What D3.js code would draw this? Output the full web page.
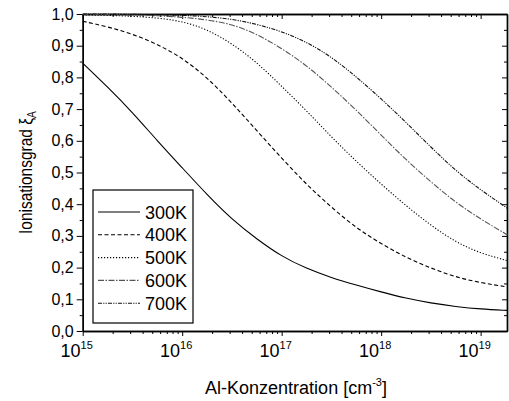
<!DOCTYPE html>
<html>
<head>
<meta charset="utf-8">
<script src="https://cdn.jsdelivr.net/npm/d3@7"></script>
<style>
  body { margin: 0; background: #fff; }
  text { font-family: Arial, "Liberation Sans", sans-serif; fill: #000; }
</style>
</head>
<body>
<script>
// log10 of Al concentration (x grid shared by all curves)
var exps = [15, 15.25, 15.5, 15.75, 16, 16.25, 16.5, 16.75, 17, 17.25, 17.5, 17.75, 18, 18.25, 18.5, 18.75, 19, 19.27];

var t300 = [0.845, 0.77, 0.69, 0.60, 0.515, 0.43, 0.352, 0.29, 0.235, 0.197, 0.168, 0.145, 0.123, 0.103, 0.088, 0.077, 0.069, 0.065];
var t400 = [0.977, 0.96, 0.937, 0.905, 0.862, 0.80, 0.72, 0.632, 0.545, 0.462, 0.39, 0.325, 0.275, 0.232, 0.198, 0.17, 0.152, 0.139];
var t500 = [0.997, 0.996, 0.993, 0.988, 0.977, 0.952, 0.907, 0.848, 0.772, 0.695, 0.612, 0.535, 0.463, 0.395, 0.333, 0.28, 0.245, 0.222];
var t600 = [0.999, 0.998, 0.997, 0.995, 0.99, 0.982, 0.968, 0.937, 0.892, 0.838, 0.77, 0.697, 0.618, 0.54, 0.47, 0.405, 0.353, 0.303];
var t700 = [1.0, 1.0, 0.999, 0.998, 0.996, 0.992, 0.984, 0.968, 0.945, 0.912, 0.865, 0.802, 0.733, 0.658, 0.58, 0.505, 0.445, 0.387];

var labels = ["300K", "400K", "500K", "600K", "700K"];
var yTicks = [0, 0.1, 0.2, 0.3, 0.4, 0.5, 0.6, 0.7, 0.8, 0.9, 1.0];
var xDecades = [15, 16, 17, 18, 19];

var series = [t300, t400, t500, t600, t700];
var dashes = ["none", "4,2.5", "1.2,1.8", "6,1.5,1.5,1.5", "4,1.2,1.2,1.2,1.2,1.2"];
var colors = ["#000", "#000", "#000", "#555", "#111"];

var W = 509, H = 401;
var L = 82.7, R = 507, T = 14, B = 331;

var svg = d3.select("body").append("svg")
  .attr("width", W).attr("height", H);

var x = d3.scaleLog().domain([1e15, Math.pow(10, 19.265)]).range([L, R]);
var y = d3.scaleLinear().domain([0, 1]).range([B, T]);

// minor ticks
var minorX = [];
xDecades.forEach(function (e) {
  for (var k = 2; k <= 9; k++) {
    var v = k * Math.pow(10, e);
    if (v < x.domain()[1]) minorX.push(v);
  }
});
var minorY = yTicks.slice(0, -1).map(function (v) { return v + 0.05; });
var majorX = xDecades.map(function (e) { return Math.pow(10, e); });

function noLabels(ax) { return ax.tickFormat(""); }

// bottom axis
svg.append("g").attr("transform", "translate(0," + B + ")")
  .call(noLabels(d3.axisBottom(x).tickValues(minorX).tickSize(3).tickSizeOuter(0)));
svg.append("g").attr("transform", "translate(0," + B + ")")
  .call(noLabels(d3.axisBottom(x).tickValues(majorX).tickSize(5).tickSizeOuter(0)));
// top axis (ticks inward)
svg.append("g").attr("transform", "translate(0," + T + ")")
  .call(noLabels(d3.axisBottom(x).tickValues(minorX).tickSize(3).tickSizeOuter(0)));
svg.append("g").attr("transform", "translate(0," + T + ")")
  .call(noLabels(d3.axisBottom(x).tickValues(majorX).tickSize(5).tickSizeOuter(0)));
// left axis
svg.append("g").attr("transform", "translate(" + L + ",0)")
  .call(noLabels(d3.axisLeft(y).tickValues(minorY).tickSize(3).tickSizeOuter(0)));
svg.append("g").attr("transform", "translate(" + L + ",0)")
  .call(noLabels(d3.axisLeft(y).tickValues(yTicks).tickSize(6).tickSizeOuter(0)));
// right axis (ticks inward)
svg.append("g").attr("transform", "translate(" + R + ",0)")
  .call(noLabels(d3.axisLeft(y).tickValues(minorY).tickSize(3).tickSizeOuter(0)));
svg.append("g").attr("transform", "translate(" + R + ",0)")
  .call(noLabels(d3.axisLeft(y).tickValues(yTicks).tickSize(5).tickSizeOuter(0)));

svg.selectAll(".domain").attr("stroke", "#000").attr("stroke-width", 1.4);
svg.selectAll(".tick line").attr("stroke", "#000").attr("stroke-width", 1);

// y tick labels
svg.append("g").selectAll("text").data(yTicks).enter().append("text")
  .attr("x", L - 9).attr("y", function (d) { return y(d) + 5.5; })
  .attr("text-anchor", "end").attr("font-size", 16)
  .text(function (d) { return d3.format(".1f")(d).replace(".", ","); });

// x tick labels 10^n
var xl = svg.append("g").selectAll("text").data(xDecades).enter().append("text")
  .attr("x", function (d) { return x(Math.pow(10, d)) - 6; })
  .attr("y", 357).attr("text-anchor", "middle").attr("font-size", 18);
xl.append("tspan").text("10");
xl.append("tspan").attr("font-size", 11).attr("dy", -8).text(function (d) { return d; });

// axis titles
var xt = svg.append("text").attr("x", 296).attr("y", 394)
  .attr("text-anchor", "middle").attr("font-size", 18);
xt.append("tspan").text("Al-Konzentration [cm");
xt.append("tspan").attr("font-size", 11).attr("dy", -8).text("-3");
xt.append("tspan").attr("dy", 8).text("]");

var yt = svg.append("text")
  .attr("transform", "translate(32," + ((T + B) / 2) + ") rotate(-90) scale(0.86,1)")
  .attr("text-anchor", "middle").attr("font-size", 18);
yt.append("tspan").text("Ionisationsgrad \u03BE");
yt.append("tspan").attr("font-size", 12).attr("dy", 4).text("A");

// curves
var line = d3.line()
  .x(function (d) { return x(Math.pow(10, d[0])); })
  .y(function (d) { return y(d[1]); })
  .curve(d3.curveBasis);

var plot = svg.append("g");
plot.selectAll("path").data(series).enter().append("path")
  .attr("d", function (s) { return line(exps.map(function (e, i) { return [e, s[i]]; })); })
  .attr("fill", "none")
  .attr("stroke", function (d, i) { return colors[i]; })
  .attr("stroke-width", 1.1)
  .attr("stroke-dasharray", function (d, i) { return dashes[i]; });

// legend
var lg = svg.append("g");
lg.append("rect").attr("x", 93).attr("y", 190).attr("width", 100).attr("height", 133)
  .attr("fill", "#fff").attr("stroke", "#000").attr("stroke-width", 1.2);
labels.forEach(function (lab, i) {
  var yy = 212 + i * 22.8;
  lg.append("line").attr("x1", 98).attr("x2", 140).attr("y1", yy).attr("y2", yy)
    .attr("stroke", colors[i]).attr("stroke-width", 1.1)
    .attr("stroke-dasharray", dashes[i]);
  lg.append("text").attr("x", 145).attr("y", yy + 6.5).attr("font-size", 18).text(lab);
});
</script>
</body>
</html>
